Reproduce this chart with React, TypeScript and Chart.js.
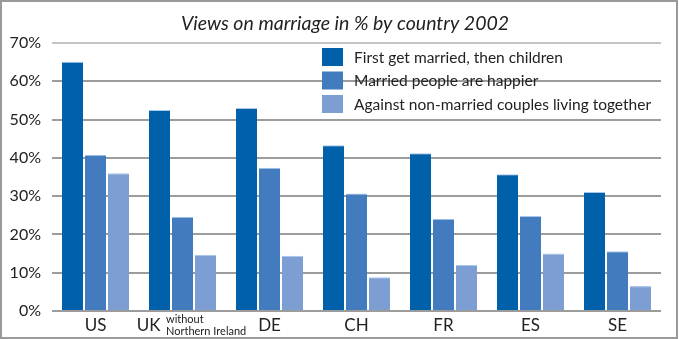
import React, { useEffect, useRef } from 'react';
import { Chart, registerables } from 'chart.js';

Chart.register(...registerables);

const TITLE = 'Views on marriage in % by country 2002';
const categories = ['US', 'UK', 'DE', 'CH', 'FR', 'ES', 'SE'];
const noteIndex = 1;
const noteLines = ['without', 'Northern Ireland'];

const seriesLabels = [
  'First get married, then children',
  'Married people are happier',
  'Against non-married couples living together',
];
const firstMarried = [65.1, 52.5, 53.0, 43.3, 41.2, 35.7, 31.1];
const marriedHappier = [40.8, 24.6, 37.4, 30.7, 24.1, 24.8, 15.6];
const againstCohabiting = [36.0, 14.7, 14.4, 8.8, 12.0, 15.0, 6.5];
const seriesColors = ['#0060aa', '#427bbe', '#7d9ed2'];

const yMin = 0;
const yMax = 70;
const yStep = 10;

const FONT = 'Lato, "Open Sans", "DejaVu Sans", sans-serif';
const TEXT = '#222222';

const decorPlugin = {
  id: 'decor',
  afterDraw(chart: any) {
    const ctx = chart.ctx as CanvasRenderingContext2D;
    const area = chart.chartArea;
    ctx.save();
    // outer frame
    ctx.strokeStyle = '#9a9a9a';
    ctx.lineWidth = 2;
    ctx.strokeRect(1, 1, chart.width - 3, chart.height - 2);

    // title
    ctx.fillStyle = TEXT;
    ctx.font = `italic 19.5px ${FONT}`;
    ctx.textAlign = 'center';
    ctx.textBaseline = 'alphabetic';
    ctx.fillText(TITLE, 345, 30);

    // legend
    ctx.textBaseline = 'middle';
    const lx = area.left + 270;
    const ly = area.top + 5;
    ctx.font = `15.5px ${FONT}`;
    ctx.textAlign = 'left';
    chart.data.datasets.forEach((ds: any, i: number) => {
      const y = ly + i * 23.5;
      ctx.fillStyle = ds.backgroundColor;
      ctx.fillRect(lx, y, 21, 18);
      ctx.fillStyle = TEXT;
      ctx.fillText(ds.label, lx + 32, y + 9.5);
    });

    // UK label with note
    const xs = chart.scales.x;
    const cx = xs.getPixelForValue(noteIndex);
    const base = area.bottom;
    ctx.fillStyle = TEXT;
    ctx.font = `17px ${FONT}`;
    ctx.textAlign = 'right';
    ctx.fillText(categories[noteIndex], cx - 22, base + 14.5);
    ctx.font = `11px ${FONT}`;
    ctx.textAlign = 'left';
    noteLines.forEach((line, i) => {
      ctx.fillText(line, cx - 16.5, base + 8.5 + i * 11.5);
    });
    ctx.restore();
  },
};

export default function App() {
  const ref = useRef<HTMLCanvasElement | null>(null);
  useEffect(() => {
    if (!ref.current) return;
    const datasets = [firstMarried, marriedHappier, againstCohabiting].map((data, i) => ({
      label: seriesLabels[i],
      data,
      backgroundColor: seriesColors[i],
      borderColor: '#a9c7ea',
      borderWidth: { top: 1, left: 0, right: 0, bottom: 0 },
      borderSkipped: false,
      categoryPercentage: 0.793,
      barPercentage: 0.913,
    }));
    const chart = new Chart(ref.current, {
      type: 'bar',
      data: { labels: categories, datasets },
      options: {
        responsive: false,
        animation: false,
        devicePixelRatio: 1,
        layout: { padding: { top: 43, right: 18, left: 0, bottom: 0 } },
        plugins: {
          legend: { display: false },
          title: { display: false },
          tooltip: { enabled: false },
        },
        scales: {
          x: {
            grid: { display: false, drawTicks: false },
            border: { display: false },
            ticks: {
              color: TEXT,
              font: { family: FONT, size: 17 },
              padding: 4,
              maxRotation: 0,
              autoSkip: false,
              callback: (_v: any, i: number) => (i === noteIndex ? '' : categories[i]),
            },
            afterFit: (s: any) => {
              s.height = 28;
            },
          },
          y: {
            min: yMin,
            max: yMax,
            grid: {
              color: (c: any) => (c.tick && c.tick.value === yMax ? '#c4c4c4' : '#9c9c9c'),
              lineWidth: 2,
              drawTicks: false,
            },
            border: { display: false },
            ticks: {
              stepSize: yStep,
              color: TEXT,
              font: { family: FONT, size: 16 },
              padding: 11,
              callback: (v: any) => `${v}%`,
            },
            afterFit: (s: any) => {
              s.width = 52;
            },
          },
        },
      },
      plugins: [decorPlugin],
    });
    return () => chart.destroy();
  }, []);
  return (
    <div style={{ position: 'absolute', left: 0, top: 0, width: 679, height: 339, background: '#fff' }}>
      <canvas ref={ref} width={679} height={339} />
    </div>
  );
}
